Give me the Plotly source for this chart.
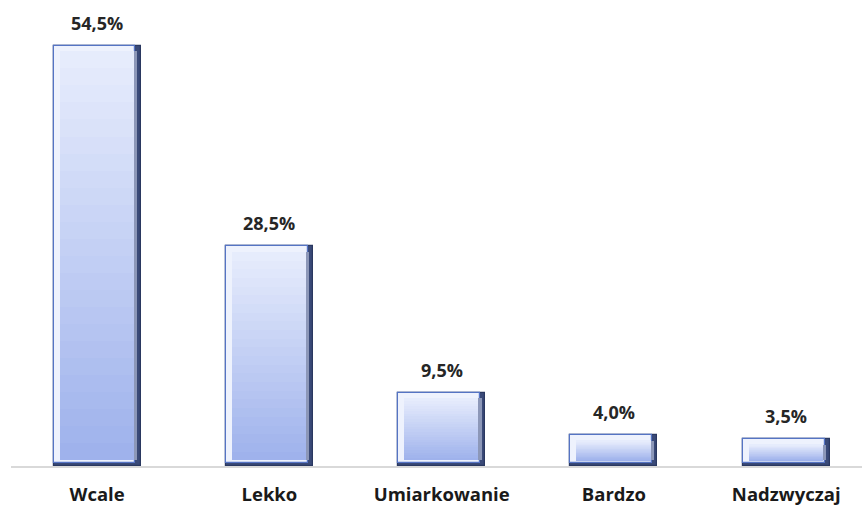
import plotly.graph_objects as go

categories = ["Wcale", "Lekko", "Umiarkowanie", "Bardzo", "Nadzwyczaj"]
values = [54.5, 28.5, 9.5, 4.0, 3.5]
labels = [f"{v:.1f}".replace(".", ",") + "%" for v in values]

BAR_W = 0.505
INNER_W = 0.43
BEVEL_Y = 0.75   # bevel depth in value units
N_STRIPS = 24
FONT = "'Open Sans', Lato, sans-serif"


def lerp_color(c1, c2, t):
    a = [int(c1[i:i + 2], 16) for i in (1, 3, 5)]
    b = [int(c2[i:i + 2], 16) for i in (1, 3, 5)]
    return "#" + "".join(f"{round(x + (y - x) * t):02x}" for x, y in zip(a, b))


fig = go.Figure()

# Dark body: its right and bottom edges read as the shaded bevel
fig.add_trace(go.Bar(
    x=categories, y=values, width=BAR_W,
    marker=dict(color="#3a4a78", line=dict(color="#2a3860", width=1.2)),
    hoverinfo="skip", showlegend=False,
))

# Light bevel for the top and left edges
fig.add_trace(go.Bar(
    x=categories, y=[v - 0.35 for v in values], base=[0.35] * len(values),
    width=BAR_W - 0.03, offset=-BAR_W / 2,
    marker=dict(color="#eef2fd", line=dict(color="#5574c4", width=1.2)),
    hoverinfo="skip", showlegend=False,
))

# Right bevel shade
fig.add_trace(go.Bar(
    x=categories, y=[v - 2 * BEVEL_Y for v in values], base=[BEVEL_Y] * len(values),
    width=0.035, offset=BAR_W / 2 - 0.055,
    marker=dict(color="#8c97b8", line=dict(width=0)),
    hoverinfo="skip", showlegend=False,
))

# Vertical gradient face of each bar, built from horizontal strips
for k in range(N_STRIPS):
    lo = [BEVEL_Y + (v - 2 * BEVEL_Y) * k / N_STRIPS for v in values]
    h = [(v - 2 * BEVEL_Y) / N_STRIPS for v in values]
    t = 1 - k / (N_STRIPS - 1)
    col = lerp_color("#e6ecfc", "#9fb2ec", t)
    fig.add_trace(go.Bar(
        x=categories, y=h, base=lo, width=INNER_W, offset=-BAR_W / 2 + 0.035,
        marker=dict(color=col, line=dict(width=0)),
        hoverinfo="skip", showlegend=False,
    ))

# Value labels above the bars
for c, v, s in zip(categories, values, labels):
    fig.add_annotation(
        x=c, y=v, text=f"<b>{s}</b>", showarrow=False,
        yanchor="bottom", yshift=9,
        font=dict(family=FONT, size=18, color="#262626"),
    )

fig.update_layout(
    width=862, height=508,
    margin=dict(l=11, r=0, t=0, b=42),
    paper_bgcolor="white", plot_bgcolor="white",
    barmode="overlay",
    bargap=0,
    xaxis=dict(
        range=[-0.5, 4.44], showgrid=False, zeroline=False,
        showline=True, linecolor="#d9d9d9", linewidth=1.5,
        ticks="", ticklabelstandoff=11, automargin=False,
        tickfont=dict(family=FONT, size=18.5, color="#1a1a1a", weight="bold"),
        fixedrange=True,
    ),
    yaxis=dict(range=[0, 60.4], visible=False, fixedrange=True),
)

fig.write_html("out.html")
